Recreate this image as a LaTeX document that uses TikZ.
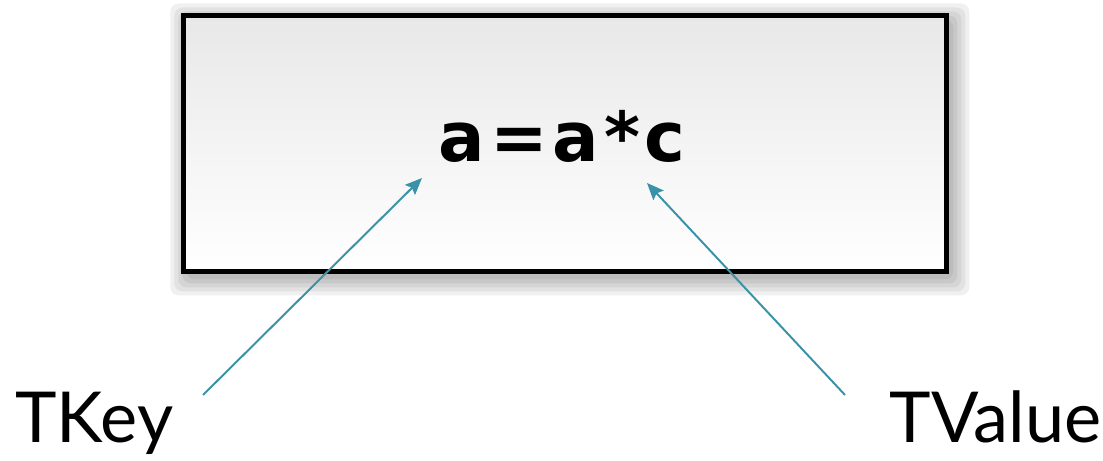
\documentclass[tikz,border=0pt]{standalone}
\usepackage{fontspec}
\setsansfont{Lato}
\newfontfamily\codefont[LetterSpace=7]{DejaVu Sans}
\usepackage{xcolor}
\usepackage{tikz}
\usetikzlibrary{arrows.meta,positioning,calc}
\definecolor{keyteal}{HTML}{3A92A8}

\begin{document}
\begin{tikzpicture}[>=Stealth, font=\sffamily,
 cbox/.style={draw,line width=3.2pt,minimum width=19.075cm,minimum height=6.4cm,top color=black!9,bottom color=white,inner sep=0pt},
 code/.style={inner sep=0pt,font=\codefont\bfseries\fontsize{49}{50}\selectfont},
 lbl/.style={inner sep=0pt,font=\sffamily\fontsize{50}{52}\selectfont},
 ptr/.style={->,line width=1.4pt,keyteal,arrows={-Stealth[length=12pt,width=10pt,inset=2pt]}}]
\useasboundingbox (0,0) rectangle (27.575,11.525);
% soft shadow behind the box
\foreach \s in {0.05,0.15,0.25,0.35,0.45}
  \fill[black,opacity=0.06,rounded corners=6pt] (4.5875-\s+0.12,4.7375-\s-0.15) rectangle (23.6625+\s+0.12,11.1375+\s-0.15);
\node[cbox] (expr) at (14.125,7.9375) {};
\node[code,anchor=base] (stmt) at (14.06,7.475) {a=a*c};
\node[lbl,anchor=base west] (tkey) at (0.375,0.45) {TKey};
\node[lbl,anchor=base east] (tvalue) at (27.55,0.45) {TValue};
\coordinate (keytail) at (5.075,1.65);
\coordinate (keyhead) at (10.55,7.075);
\coordinate (valtail) at (21.125,1.65);
\coordinate (valhead) at (16.175,6.95);
\draw[ptr] (keytail) -- (keyhead);
\draw[ptr] (valtail) -- (valhead);
\end{tikzpicture}
\end{document}
